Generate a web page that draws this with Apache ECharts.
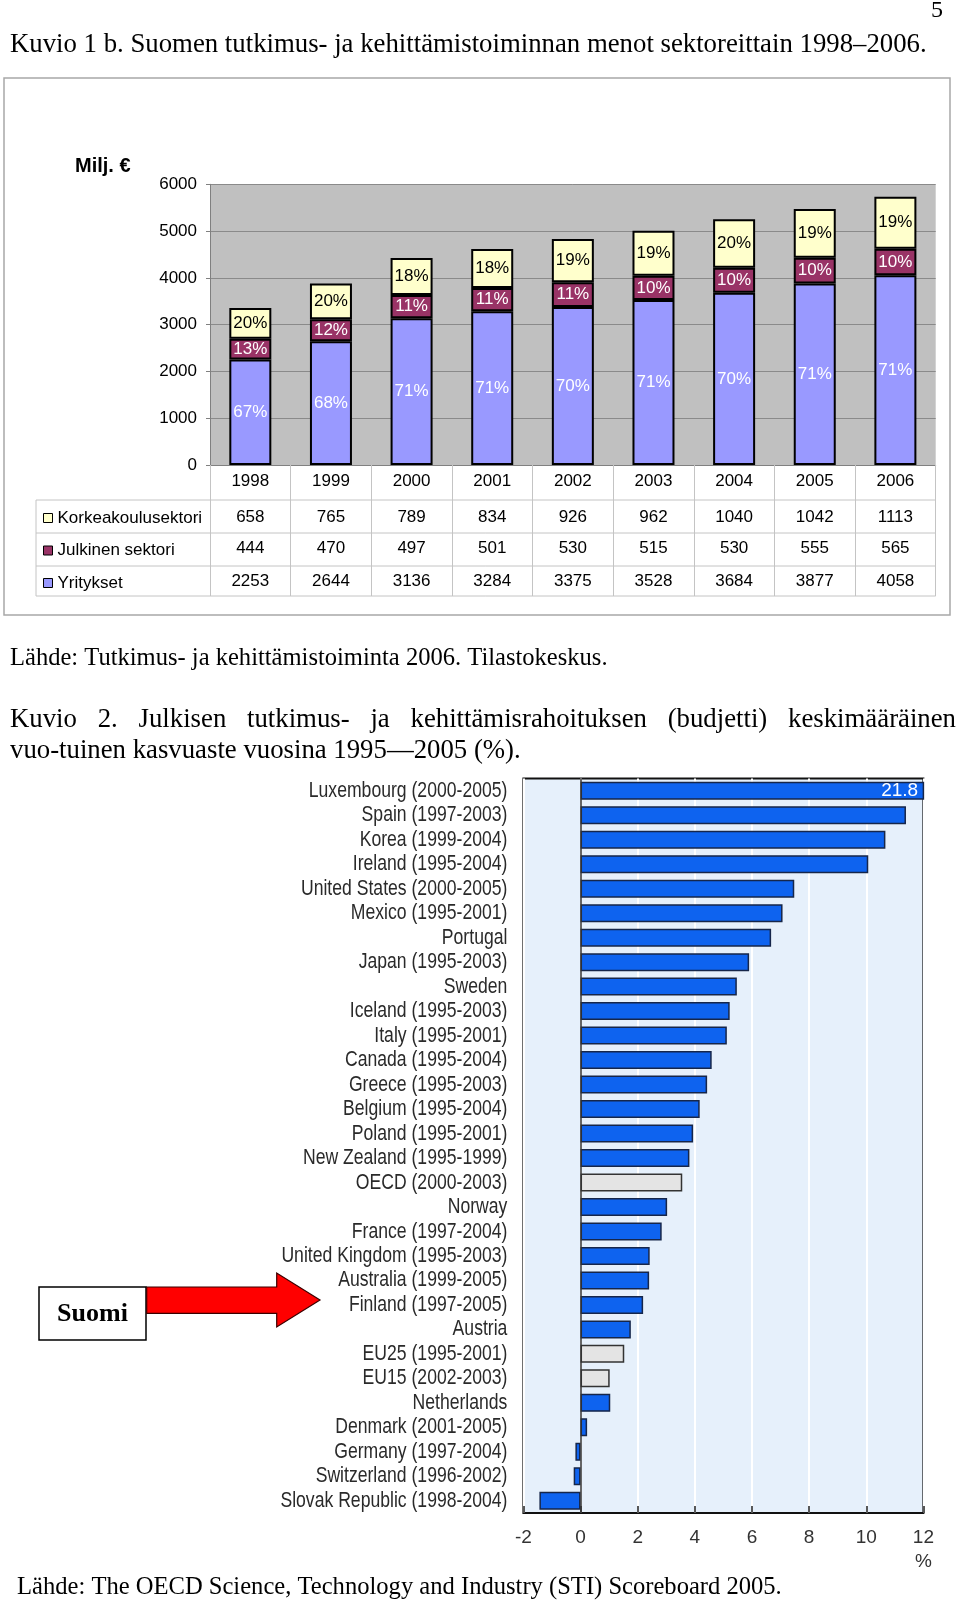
<!DOCTYPE html>
<html><head><meta charset="utf-8">
<script src="https://cdn.jsdelivr.net/npm/echarts/dist/echarts.min.js"></script>
<style>html,body{margin:0;padding:0;background:#fff}#c{width:960px;height:1603px}</style>
</head><body><div id="c"></div>
<script>
// ---------- Data: Kuvio 1 b ----------
const years = ['1998','1999','2000','2001','2002','2003','2004','2005','2006'];
const korkeakoulu = [658,765,789,834,926,962,1040,1042,1113];
const julkinen = [444,470,497,501,530,515,530,555,565];
const yritykset = [2253,2644,3136,3284,3375,3528,3684,3877,4058];
const pctKorkeakoulu = [20,20,18,18,19,19,20,19,19];
const pctJulkinen = [13,12,11,11,11,10,10,10,10];
const pctYritykset = [67,68,71,71,70,71,70,71,71];
const seriesNames = ['Yritykset','Julkinen sektori','Korkeakoulusektori'];

// ---------- Data: Kuvio 2 ----------
const countries = ['Luxembourg (2000-2005)','Spain (1997-2003)','Korea (1999-2004)','Ireland (1995-2004)',
 'United States (2000-2005)','Mexico (1995-2001)','Portugal','Japan (1995-2003)','Sweden',
 'Iceland (1995-2003)','Italy (1995-2001)','Canada (1995-2004)','Greece (1995-2003)','Belgium (1995-2004)',
 'Poland (1995-2001)','New Zealand (1995-1999)','OECD (2000-2003)','Norway','France (1997-2004)',
 'United Kingdom (1995-2003)','Australia (1999-2005)','Finland (1997-2005)','Austria','EU25 (1995-2001)',
 'EU15 (2002-2003)','Netherlands','Denmark (2001-2005)','Germany (1997-2004)','Switzerland (1996-2002)',
 'Slovak Republic (1998-2004)'];
const growth = [21.8,11.39,10.67,10.07,7.48,7.07,6.67,5.90,5.47,5.22,5.12,4.59,4.43,4.17,3.94,3.81,3.56,
 3.03,2.84,2.42,2.40,2.19,1.76,1.53,1.02,1.04,0.23,-0.18,-0.24,-1.44];
const aggregates = ['OECD (2000-2003)','EU25 (1995-2001)','EU15 (2002-2003)'];

// ---------- Texts ----------
const pageNo = '5';
const title1 = 'Kuvio 1 b. Suomen tutkimus- ja kehittämistoiminnan menot sektoreittain 1998–2006.';
const source1 = 'Lähde: Tutkimus- ja kehittämistoiminta 2006. Tilastokeskus.';
const title2a = 'Kuvio 2. Julkisen tutkimus- ja kehittämisrahoituksen (budjetti) keskimääräinen';
const title2b = 'vuo-tuinen kasvuaste vuosina 1995—2005 (%).';
const source2 = 'Lähde: The OECD Science, Technology and Industry (STI) Scoreboard 2005.';
const unitLabel = 'Milj. €';
const calloutLabel = 'Suomi';

const SERIF = '"Liberation Serif","Times New Roman",serif';
const SANS = '"Liberation Sans",Arial,sans-serif';

const mctx = document.createElement('canvas').getContext('2d');
function measure(str, size, family, weight){ mctx.font = (weight||'normal')+' '+size+'px '+family; return mctx.measureText(str).width; }
function fitSize(str, width, family, weight){ return 100*width/measure(str,100,family,weight); }

function textEl(str, x, y, size, family, opts){
  opts = opts||{};
  return {type:'text', x:x, y:y, silent:true, z:10,
    style:{text:str, font:(opts.weight||'normal')+' '+size+'px '+family, fill:opts.fill||'#000',
      textAlign:opts.align||'left', align:opts.align||'left', textVerticalAlign:'middle', verticalAlign:'middle'}};
}

const graphics = [];
graphics.push(textEl(pageNo, 943, 11, 24, SERIF, {align:'right'}));
graphics.push(textEl(title1, 10, 45, fitSize(title1, 917, SERIF), SERIF));
graphics.push(textEl(source1, 10, 659, fitSize(source1, 598, SERIF), SERIF));
const fs2 = fitSize(title2b, 511, SERIF);
graphics.push(textEl(title2b, 10, 751, fs2, SERIF));
(function(){
  const words = title2a.split(' ');
  const widths = words.map(w=>measure(w, fs2, SERIF));
  const total = widths.reduce((a,b)=>a+b,0);
  const gap = (956-10-total)/(words.length-1);
  let x = 10;
  words.forEach((w,i)=>{ graphics.push(textEl(w, x, 720, fs2, SERIF)); x += widths[i]+gap; });
})();
graphics.push(textEl(source2, 17, 1588, fitSize(source2, 765, SERIF), SERIF));
graphics.push({type:'rect', silent:true, z:0, shape:{x:4, y:78, width:946, height:537},
  style:{fill:'none', stroke:'#a8a8a8', lineWidth:1.5}});
graphics.push(textEl(unitLabel, 75, 166, 20, SANS, {weight:'bold'}));
[500,533,566,596].forEach(y=>graphics.push({type:'line', silent:true, z:1,
  shape:{x1:36, y1:y, x2:935.7, y2:y}, style:{stroke:'#c4c4c4', lineWidth:1}}));
graphics.push({type:'line', silent:true, z:1, shape:{x1:36, y1:500, x2:36, y2:596}, style:{stroke:'#c4c4c4', lineWidth:1}});
graphics.push({type:'rect', silent:true, z:5, shape:{x:39, y:1287, width:107, height:53},
  style:{fill:'#fff', stroke:'#000', lineWidth:1.5}});
graphics.push(textEl(calloutLabel, 92.5, 1314, 26, SERIF, {weight:'bold', align:'center'}));
graphics.push({type:'polygon', silent:true, z:5,
  shape:{points:[[146.7,1287],[276.7,1287],[276.7,1273],[320,1300],[276.7,1327],[276.7,1313.3],[146.7,1313.3]]},
  style:{fill:'#ff0000', stroke:'#3a0000', lineWidth:1.2}});

const chart = echarts.init(document.getElementById('c'), null, {renderer:'canvas'});

const COLORS = {'Yritykset':'#9999ff','Julkinen sektori':'#993366','Korkeakoulusektori':'#ffffcc'};
const pctMap = {'Yritykset':pctYritykset,'Julkinen sektori':pctJulkinen,'Korkeakoulusektori':pctKorkeakoulu};
const dataMap = {'Yritykset':yritykset,'Julkinen sektori':julkinen,'Korkeakoulusektori':korkeakoulu};
const labelColor = {'Yritykset':'#ffffff','Julkinen sektori':'#ffffff','Korkeakoulusektori':'#000000'};

const topSeries = seriesNames.map(n=>({
  name:n, type:'bar', stack:'s', xAxisIndex:0, yAxisIndex:0, data:dataMap[n], barWidth:42,
  itemStyle:{color:COLORS[n], borderColor:'#000', borderWidth:2},
  label:{show:true, position:'inside', formatter:p=>pctMap[n][p.dataIndex]+'%', color:labelColor[n],
    fontSize:17, fontFamily:SANS, textBorderWidth:0},
  emphasis:{disabled:true}, animation:false
}));

const tableRows = [korkeakoulu, julkinen, yritykset];
const tableOffsets = [35.3, 66.3, 100];
const tableAxes = tableRows.map((row,k)=>({
  type:'category', gridIndex:0, data:years, position:'bottom', offset:tableOffsets[k],
  axisLine:{show:false}, axisTick:{show:false}, splitLine:{show:false},
  axisLabel:{interval:0, margin:8.2, fontSize:17, fontFamily:SANS, color:'#000', formatter:(v,i)=>String(row[i])}
}));

// condensed category labels for Kuvio 2, placed through the y category axis
const countryLabelSeries = {
  type:'custom', xAxisIndex:4, yAxisIndex:1, silent:true, clip:false, z:5,
  data:countries.map(c=>[-2, c]), encode:{x:0, y:1},
  renderItem:(params, api)=>{
    const pt = api.coord([-2, api.value(1)]);
    return {type:'text', x:pt[0]-16, y:pt[1], scaleX:0.8, scaleY:1,
      style:{text:countries[params.dataIndex], font:'22px '+SANS, fill:'#2a2a2a',
        textAlign:'right', align:'right', textVerticalAlign:'middle', verticalAlign:'middle'}};
  }
};

const option = {
  animation:false,
  backgroundColor:'#fff',
  grid:[
    {left:210, right:24.3, top:184.3, height:280.7, show:true, backgroundColor:'#c0c0c0', borderWidth:0, containLabel:false},
    {left:523.4, right:36.6, top:778.5, bottom:90, show:true, backgroundColor:'#e6f0fb', borderColor:'#111', borderWidth:2, containLabel:false}
  ],
  legend:{
    data:['Korkeakoulusektori','Julkinen sektori','Yritykset'], orient:'vertical', left:38, top:503,
    itemWidth:9, itemHeight:9, itemGap:12.5, icon:'rect', selectedMode:false,
    itemStyle:{borderColor:'#000', borderWidth:1},
    textStyle:{fontSize:17, fontFamily:SANS, color:'#000', lineHeight:20}
  },
  xAxis:[
    {type:'category', gridIndex:0, data:years, position:'bottom',
      axisLine:{show:true, lineStyle:{color:'#808080', width:1}},
      axisTick:{show:true, length:131, lineStyle:{color:'#c4c4c4', width:1}},
      axisLabel:{interval:0, margin:8.2, fontSize:17, fontFamily:SANS, color:'#000'},
      splitLine:{show:false}},
    ...tableAxes,
    {type:'value', gridIndex:1, min:-2, max:12, interval:2, position:'bottom',
      axisLine:{show:false},
      axisTick:{show:true, inside:true, length:7, lineStyle:{color:'#222', width:1.5}},
      splitLine:{show:true, lineStyle:{color:'#ffffff', width:2}},
      axisLabel:{margin:13, fontSize:19, fontFamily:SANS, color:'#333', lineHeight:24,
        formatter:v=> v===12 ? '12\n%' : String(v)}}
  ],
  yAxis:[
    {type:'value', gridIndex:0, min:0, max:6000, interval:1000,
      axisLine:{show:true, lineStyle:{color:'#808080'}},
      axisTick:{show:true, length:4, lineStyle:{color:'#808080'}},
      splitLine:{show:true, lineStyle:{color:'#8a8a8a', width:1}},
      axisLabel:{margin:13, fontSize:17, fontFamily:SANS, color:'#000', formatter:v=>String(v)}},
    {type:'category', gridIndex:1, data:countries, inverse:true,
      axisLine:{show:false, onZero:false}, axisTick:{show:false},
      axisLabel:{show:false}}
  ],
  series:[
    ...topSeries,
    {type:'bar', xAxisIndex:4, yAxisIndex:1, barWidth:18, clip:true,
      data:growth.map((v,i)=>{
        const agg = aggregates.indexOf(countries[i])>=0;
        return {value:v, itemStyle: agg ? {color:'#e4e4e4', borderColor:'#333', borderWidth:1.5}
                                       : {color:'#0e63ef', borderColor:'#16264a', borderWidth:1.5}};
      }),
      label:{show:true, position:'insideRight', distance:6, color:'#fff', fontSize:19, fontFamily:SANS,
        textBorderWidth:0, formatter:p=> p.value>12 ? String(p.value) : ''},
      markLine:{silent:true, symbol:'none', animation:false, label:{show:false},
        lineStyle:{color:'#333', width:1.5, type:'solid'}, data:[{xAxis:0}]},
      emphasis:{disabled:true}
    },
    countryLabelSeries
  ],
  graphic:graphics
};
chart.setOption(option);
</script></body></html>
